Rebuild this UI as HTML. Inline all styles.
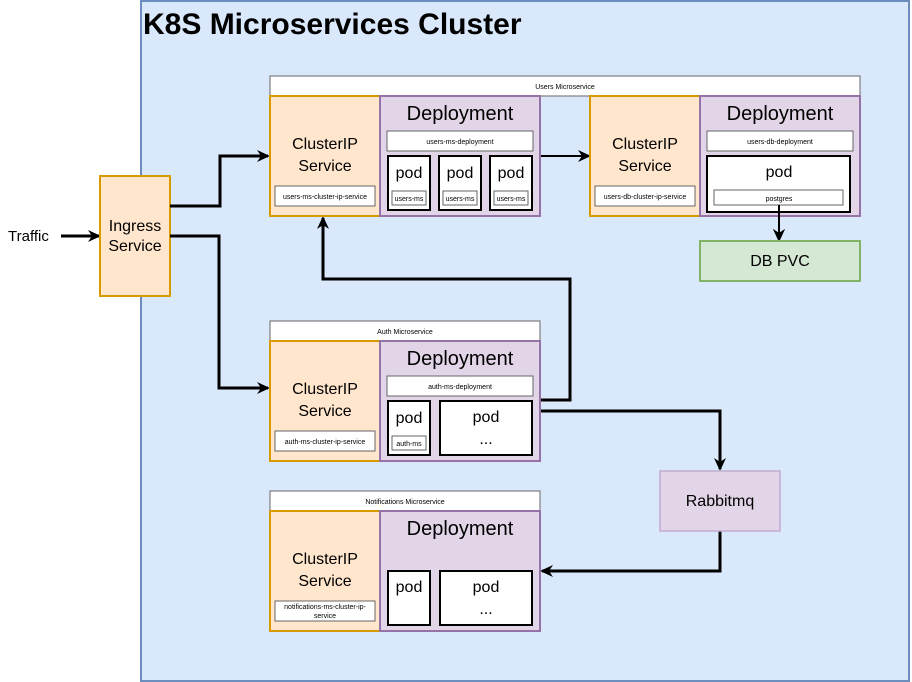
<!DOCTYPE html>
<html><head><meta charset="utf-8"><style>
html,body{margin:0;padding:0;background:#fff;}
svg{display:block;font-family:"Liberation Sans",Arial,sans-serif;}
</style></head><body>
<svg width="912" height="682" viewBox="0 0 912 682" xmlns="http://www.w3.org/2000/svg">
<defs>
<marker id="a" markerWidth="14" markerHeight="14" refX="11" refY="7" orient="auto" markerUnits="userSpaceOnUse">
<path d="M0,1 L13,7 L0,13 L4,7 Z" fill="#000"/>
</marker>
</defs>
<rect x="141" y="1" width="768" height="680" fill="#dae8fc" stroke="#6c8ebf" stroke-width="2"/>
<text x="143" y="34" font-size="30" font-weight="bold">K8S Microservices Cluster</text>

<text x="8" y="241" font-size="15">Traffic</text>
<line x1="61" y1="236" x2="99" y2="236" stroke="#000" stroke-width="3" marker-end="url(#a)"/>
<rect x="100" y="176" width="70" height="120" fill="#ffe6cc" stroke="#d79b00" stroke-width="2"/>
<text x="135" y="231" font-size="16" text-anchor="middle">Ingress</text>
<text x="135" y="251" font-size="16" text-anchor="middle">Service</text>

<g fill="none" stroke="#000" stroke-width="3">
<polyline points="170,206 220,206 220,156 268,156" marker-end="url(#a)"/>
<polyline points="170,236 219,236 219,388 268,388" marker-end="url(#a)"/>
<polyline points="540,400 570,400 570,279 323,279 323,218" marker-end="url(#a)"/>
<polyline points="540,411 720,411 720,469" marker-end="url(#a)"/>
<polyline points="720,531 720,571 542,571" marker-end="url(#a)"/>
<line x1="540" y1="156" x2="589" y2="156" stroke-width="2" marker-end="url(#a)"/>
<line x1="779" y1="205" x2="779" y2="240" stroke-width="2" marker-end="url(#a)"/>
</g>

<rect x="270" y="76" width="590" height="20" fill="#fff" stroke="#666"/>
<text x="565" y="89" font-size="7" text-anchor="middle">Users Microservice</text>
<rect x="270" y="96" width="110" height="120" fill="#ffe6cc" stroke="#d79b00" stroke-width="2"/>
<text x="325" y="149" font-size="16" text-anchor="middle">ClusterIP</text>
<text x="325" y="171" font-size="16" text-anchor="middle">Service</text>
<rect x="275" y="186" width="100" height="20" fill="#fff" stroke="#666"/>
<text x="325" y="199" font-size="7" text-anchor="middle">users-ms-cluster-ip-service</text>
<rect x="380" y="96" width="160" height="120" fill="#e1d5e7" stroke="#9673a6" stroke-width="2"/>
<text x="460" y="120" font-size="20" text-anchor="middle">Deployment</text>
<rect x="387" y="131" width="146" height="20" fill="#fff" stroke="#666"/>
<text x="460" y="144" font-size="7" text-anchor="middle">users-ms-deployment</text>
<rect x="388" y="156" width="42" height="54" fill="#fff" stroke="#000" stroke-width="2"/>
<text x="409" y="178" font-size="16" text-anchor="middle">pod</text>
<rect x="392" y="191" width="34" height="14" fill="#fff" stroke="#666"/>
<text x="409" y="201" font-size="7" text-anchor="middle">users-ms</text>
<rect x="439" y="156" width="42" height="54" fill="#fff" stroke="#000" stroke-width="2"/>
<text x="460" y="178" font-size="16" text-anchor="middle">pod</text>
<rect x="443" y="191" width="34" height="14" fill="#fff" stroke="#666"/>
<text x="460" y="201" font-size="7" text-anchor="middle">users-ms</text>
<rect x="490" y="156" width="42" height="54" fill="#fff" stroke="#000" stroke-width="2"/>
<text x="511" y="178" font-size="16" text-anchor="middle">pod</text>
<rect x="494" y="191" width="34" height="14" fill="#fff" stroke="#666"/>
<text x="511" y="201" font-size="7" text-anchor="middle">users-ms</text>

<rect x="590" y="96" width="110" height="120" fill="#ffe6cc" stroke="#d79b00" stroke-width="2"/>
<text x="645" y="149" font-size="16" text-anchor="middle">ClusterIP</text>
<text x="645" y="171" font-size="16" text-anchor="middle">Service</text>
<rect x="595" y="186" width="100" height="20" fill="#fff" stroke="#666"/>
<text x="645" y="199" font-size="7" text-anchor="middle">users-db-cluster-ip-service</text>
<rect x="700" y="96" width="160" height="120" fill="#e1d5e7" stroke="#9673a6" stroke-width="2"/>
<text x="780" y="120" font-size="20" text-anchor="middle">Deployment</text>
<rect x="707" y="131" width="146" height="20" fill="#fff" stroke="#666"/>
<text x="780" y="144" font-size="7" text-anchor="middle">users-db-deployment</text>
<rect x="707" y="156" width="143" height="56" fill="#fff" stroke="#000" stroke-width="2"/>
<text x="779" y="177" font-size="16" text-anchor="middle">pod</text>
<rect x="714" y="190" width="129" height="15" fill="#fff" stroke="#666"/>
<text x="779" y="201" font-size="7" text-anchor="middle">postgres</text>
<line x1="779" y1="205" x2="779" y2="240" stroke="#000" stroke-width="2" marker-end="url(#a)"/>
<rect x="700" y="241" width="160" height="40" fill="#d5e8d4" stroke="#82b366" stroke-width="2"/>
<text x="780" y="266" font-size="16" text-anchor="middle">DB PVC</text>

<rect x="270" y="321" width="270" height="20" fill="#fff" stroke="#666"/>
<text x="405" y="334" font-size="7" text-anchor="middle">Auth Microservice</text>
<rect x="270" y="341" width="110" height="120" fill="#ffe6cc" stroke="#d79b00" stroke-width="2"/>
<text x="325" y="394" font-size="16" text-anchor="middle">ClusterIP</text>
<text x="325" y="416" font-size="16" text-anchor="middle">Service</text>
<rect x="275" y="431" width="100" height="20" fill="#fff" stroke="#666"/>
<text x="325" y="444" font-size="7" text-anchor="middle">auth-ms-cluster-ip-service</text>
<rect x="380" y="341" width="160" height="120" fill="#e1d5e7" stroke="#9673a6" stroke-width="2"/>
<text x="460" y="365" font-size="20" text-anchor="middle">Deployment</text>
<rect x="387" y="376" width="146" height="20" fill="#fff" stroke="#666"/>
<text x="460" y="389" font-size="7" text-anchor="middle">auth-ms-deployment</text>
<rect x="388" y="401" width="42" height="54" fill="#fff" stroke="#000" stroke-width="2"/>
<text x="409" y="423" font-size="16" text-anchor="middle">pod</text>
<rect x="392" y="436" width="34" height="14" fill="#fff" stroke="#666"/>
<text x="409" y="446" font-size="7" text-anchor="middle">auth-ms</text>
<rect x="440" y="401" width="92" height="54" fill="#fff" stroke="#000" stroke-width="2"/>
<text x="486" y="422" font-size="16" text-anchor="middle">pod</text>
<text x="486" y="444" font-size="16" text-anchor="middle">...</text>

<rect x="270" y="491" width="270" height="20" fill="#fff" stroke="#666"/>
<text x="405" y="504" font-size="7" text-anchor="middle">Notifications Microservice</text>
<rect x="270" y="511" width="110" height="120" fill="#ffe6cc" stroke="#d79b00" stroke-width="2"/>
<text x="325" y="564" font-size="16" text-anchor="middle">ClusterIP</text>
<text x="325" y="586" font-size="16" text-anchor="middle">Service</text>
<rect x="275" y="601" width="100" height="20" fill="#fff" stroke="#666"/>
<text x="325" y="609" font-size="7" text-anchor="middle">notifications-ms-cluster-ip-</text>
<text x="325" y="618" font-size="7" text-anchor="middle">service</text>
<rect x="380" y="511" width="160" height="120" fill="#e1d5e7" stroke="#9673a6" stroke-width="2"/>
<text x="460" y="535" font-size="20" text-anchor="middle">Deployment</text>
<rect x="388" y="571" width="42" height="54" fill="#fff" stroke="#000" stroke-width="2"/>
<text x="409" y="592" font-size="16" text-anchor="middle">pod</text>
<rect x="440" y="571" width="92" height="54" fill="#fff" stroke="#000" stroke-width="2"/>
<text x="486" y="592" font-size="16" text-anchor="middle">pod</text>
<text x="486" y="614" font-size="16" text-anchor="middle">...</text>

<rect x="660" y="471" width="120" height="60" fill="#e1d5e7" stroke="#c3abd0" stroke-width="1.5"/>
<text x="720" y="506" font-size="16" text-anchor="middle">Rabbitmq</text>
</svg>
</body></html>
